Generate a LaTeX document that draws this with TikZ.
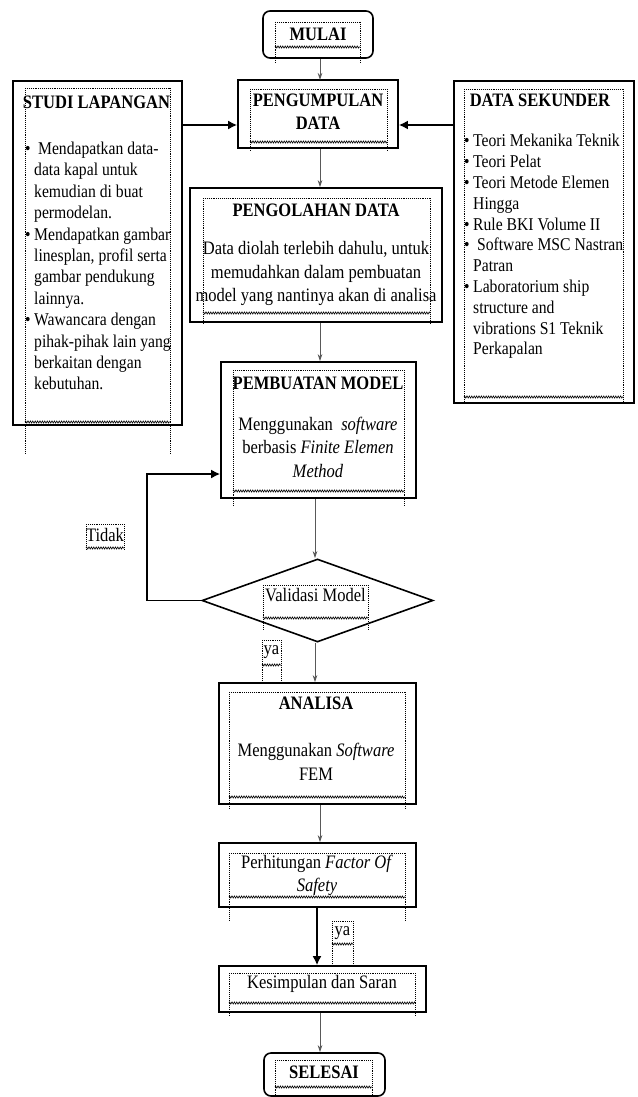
\documentclass[tikz,border=0pt]{standalone}
\usepackage{fontspec}
\setmainfont{Liberation Serif}[FakeStretch=0.87]
\usetikzlibrary{arrows.meta,shapes.geometric,decorations.pathmorphing,calc}
\newcommand\fmain{\fontsize{19}{23.5}\selectfont}
\newcommand\fside{\fontsize{18}{21.4}\selectfont}
\newcommand\bul{\makebox[9pt][l]{\textbullet}}
\newcommand\ind{\hspace*{9pt}}
\newcommand\dframe[5]{%
  \draw[dfr] (#1,#2) -- (#3,#2);
  \draw[dfr] (#1,#2) -- (#1,#5);
  \draw[dfr] (#3,#2) -- (#3,#5);
  \draw[zz] (#1,#4) -- (#3,#4);}
\begin{document}
\begin{tikzpicture}[x=1pt,y=-1pt,
  box/.style={draw, line width=1.6pt, inner sep=0pt},
  rbox/.style={box, rounded corners=7pt},
  txt/.style={inner sep=0pt, align=center, font=\fmain},
  lst/.style={inner sep=0pt, align=left, font=\fside},
  dfr/.style={densely dotted, line width=0.9pt},
  zz/.style={line width=0.6pt, decorate, decoration={zigzag, segment length=2.4pt, amplitude=1.1pt}},
  thin arrow/.style={draw=black!65, line width=0.8pt, -{Stealth[length=7pt,width=4.5pt]}},
  thick arrow/.style={draw=black, line width=1.8pt, -{Latex[length=9pt,width=9pt]}}]
\useasboundingbox (0,0) rectangle (637,1097);

% main boxes
\node[rbox, minimum width=110pt, minimum height=47pt] (mulai) at (318,34.5) {};
\node[box, minimum width=160pt, minimum height=68pt] (kumpul) at (318,114) {};
\node[box, minimum width=169pt, minimum height=344pt] (studi) at (97.5,253) {};
\node[box, minimum width=180pt, minimum height=322pt] (sekunder) at (544,242) {};
\node[box, minimum width=252pt, minimum height=134pt] (olah) at (316,255) {};
\node[box, minimum width=195pt, minimum height=136pt] (model) at (318.5,430) {};
\node[draw, line width=1.6pt, diamond, inner sep=0pt, aspect=2.8, minimum width=231pt, minimum height=83pt] (val) at (317.5,600.5) {};
\node[box, minimum width=197pt, minimum height=121pt] (analisa) at (317.5,743.5) {};
\node[box, minimum width=197pt, minimum height=64pt] (hitung) at (317.5,875) {};
\node[box, minimum width=207pt, minimum height=46pt] (simpul) at (322.5,989) {};
\node[rbox, minimum width=121pt, minimum height=43pt] (selesai) at (324.5,1074.5) {};

% texts
\node[txt] (tmulai) at (318,34) {\textbf{MULAI}};
\node[txt] (tkumpul) at (318,111.5) {\fontsize{19}{22}\selectfont\textbf{PENGUMPULAN}\\\textbf{DATA}};
\node[txt] (tstudi) at (96.5,102) {\textbf{STUDI LAPANGAN}};
\node[lst, anchor=west] (lstudi) at (25,266) {%
\bul\ Mendapatkan data-\\
\ind data kapal untuk\\
\ind kemudian di buat\\
\ind permodelan.\\
\bul Mendapatkan gambar\\
\ind linesplan, profil serta\\
\ind gambar pendukung\\
\ind lainnya.\\
\bul Wawancara dengan\\
\ind pihak-pihak lain yang\\
\ind berkaitan dengan\\
\ind kebutuhan.};
\node[txt] (tsekunder) at (540,100) {\textbf{DATA SEKUNDER}};
\node[lst, anchor=west, font={\fontsize{18}{20.8}\selectfont}] (lsekunder) at (464,246.5) {%
\bul Teori Mekanika Teknik\\
\bul Teori Pelat\\
\bul Teori Metode Elemen\\
\ind Hingga\\
\bul Rule BKI Volume II\\
\bul\ Software MSC Nastran\\
\ind Patran\\
\bul Laboratorium ship\\
\ind structure and\\
\ind vibrations S1 Teknik\\
\ind Perkapalan};
\node[txt] (tolah) at (316,210) {\textbf{PENGOLAHAN DATA}};
\node[txt] (bolah) at (316,273.5) {Data diolah terlebih dahulu, untuk\\memudahkan dalam pembuatan\\model yang nantinya akan di analisa};
\node[txt] (tmodel) at (318,383) {\textbf{PEMBUATAN MODEL}};
\node[txt] (bmodel) at (318,447) {Menggunakan \ \textit{software}\\berbasis \textit{Finite Elemen}\\\textit{Method}};
\node[txt] (tval) at (315.5,595) {Validasi Model};
\node[txt] (ttidak) at (105,535) {Tidak};
\node[txt] (tya1) at (271.5,652) {ya};
\node[txt] (tanalisa) at (316,703) {\textbf{ANALISA}};
\node[txt] (banalisa) at (316,762) {\fontsize{19}{25.5}\selectfont Menggunakan \textit{Software}\\FEM};
\node[txt] (thitung) at (317,875.5) {\fontsize{19}{25}\selectfont Perhitungan \textit{Factor Of}\\\textit{Safety}};
\node[txt] (tya2) at (342.5,933) {ya};
\node[txt] (tsimpul) at (322,984) {Kesimpulan dan Saran};
\node[txt] (tselesai) at (324,1072) {\textbf{SELESAI}};

% dotted text frames
\dframe{275}{22}{360}{47}{63}
\dframe{250}{89}{387}{142}{150}
\dframe{25}{88}{170}{422}{453}
\dframe{464}{89}{623}{397}{403}
\dframe{203}{198}{430}{313}{325}
\dframe{233}{370}{404}{491}{505}
\dframe{263}{585}{368}{618}{630}
\dframe{86}{524}{124}{548}{550}
\dframe{262}{640}{281}{665}{683}
\dframe{229}{692}{405}{797}{808}
\dframe{229}{853}{405}{897}{920}
\dframe{332}{921}{353}{944}{966}
\dframe{229}{973}{415}{1003}{1015}
\dframe{275}{1060}{372}{1087}{1097}

% connectors
\draw[thin arrow] (mulai.south -| 0,0) ++(320,0) -- (320,80);
\draw[thick arrow] (studi.east |- 0,125) -- (kumpul.west |- 0,125);
\draw[thick arrow] (sekunder.west |- 0,125) -- (kumpul.east |- 0,125);
\draw[thin arrow] (kumpul.south -| 320,0) -- (olah.north -| 320,0);
\draw[thin arrow] (olah.south -| 320,0) -- (model.north -| 320,0);
\draw[thin arrow] (model.south -| 315,0) -- (val.north -| 315,0);
\draw[thick arrow] (val.west) -- (147,600.5) -- (147,474) -- (model.west |- 0,474);
\draw[thin arrow] (val.south -| 315,0) -- (analisa.north -| 315,0);
\draw[thin arrow] (analisa.south -| 320,0) -- (hitung.north -| 320,0);
\draw[thick arrow] (hitung.south -| 317,0) -- (simpul.north -| 317,0);
\draw[thin arrow] (simpul.south -| 320,0) -- (selesai.north -| 320,0);
\end{tikzpicture}
\end{document}
